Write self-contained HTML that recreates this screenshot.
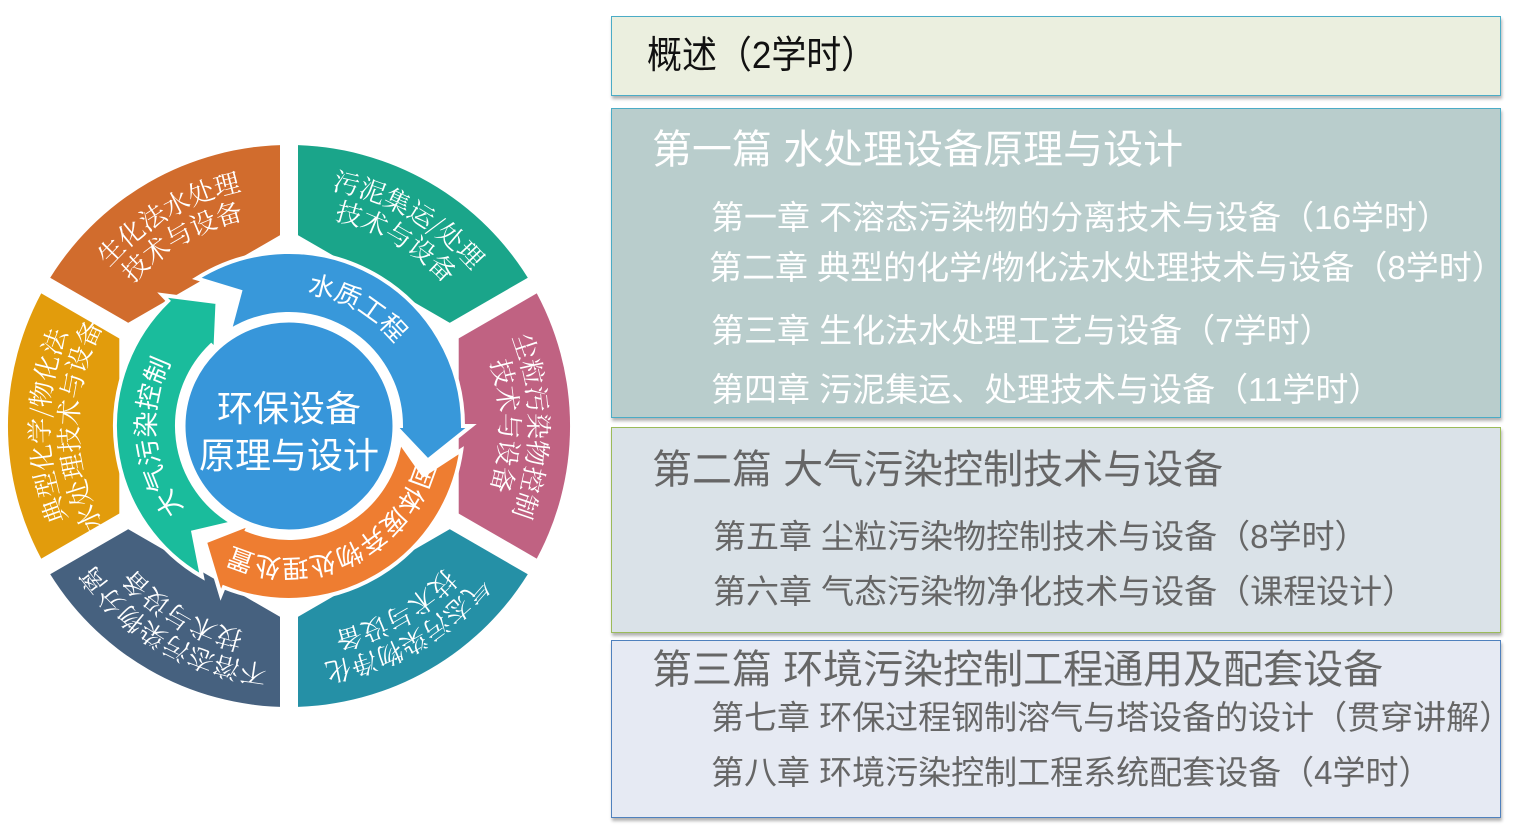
<!DOCTYPE html>
<html><head><meta charset="utf-8">
<style>
html,body{margin:0;padding:0;background:#fff;}
body{width:1522px;height:834px;position:relative;overflow:hidden;font-family:"Liberation Sans","Noto Sans CJK SC",sans-serif;}
.box{position:absolute;left:611px;width:890px;box-sizing:border-box;box-shadow:1px 3px 3px rgba(0,0,0,0.3);}
.t{position:absolute;white-space:nowrap;line-height:1;}
svg{position:absolute;left:0;top:0;}
</style></head><body>
<svg width="600" height="834" viewBox="0 0 600 834">
<g id="outer"></g>
<g id="gaps" stroke="#fff" stroke-width="18"></g>
<g id="inner" stroke="#fff" stroke-width="4"></g>
<circle cx="289" cy="426" r="107" fill="#3796DA" stroke="#fff" stroke-width="7"/>
<defs id="defs"></defs>
<g font-family="'Noto Serif CJK SC',serif" font-size="26" fill="#fff" text-anchor="middle">
<text><textPath href="#o0a" startOffset="50%">生化法水处理</textPath></text>
<text><textPath href="#o0b" startOffset="50%">技术与设备</textPath></text>
<text><textPath href="#o1a" startOffset="50%">污泥集运/处理</textPath></text>
<text><textPath href="#o1b" startOffset="50%">技术与设备</textPath></text>
<text><textPath href="#o2a" startOffset="50%">尘粒污染物控制</textPath></text>
<text><textPath href="#o2b" startOffset="50%">技术与设备</textPath></text>
<text><textPath href="#o3a" startOffset="50%">气态污染物净化</textPath></text>
<text><textPath href="#o3b" startOffset="50%">技术与设备</textPath></text>
<text><textPath href="#o4a" startOffset="50%">不溶态污染物分离</textPath></text>
<text><textPath href="#o4b" startOffset="50%">技术与设备</textPath></text>
<text><textPath href="#o5a" startOffset="50%">典型化学/物化法</textPath></text>
<text><textPath href="#o5b" startOffset="50%">水处理技术与设备</textPath></text>
</g>
<g font-family="'Liberation Sans','Noto Sans CJK SC',sans-serif" font-size="26" fill="#fff" text-anchor="middle">
<text><textPath href="#i0" startOffset="50%">水质工程</textPath></text>
<text><textPath href="#i1" startOffset="50%">固体废弃物处理处置</textPath></text>
<text><textPath href="#i2" startOffset="50%">大气污染控制</textPath></text>
</g>
<g font-family="'Liberation Sans','Noto Sans CJK SC',sans-serif" font-size="36" fill="#fff" text-anchor="middle">
<text x="289" y="421">环保设备</text>
<text x="289" y="468">原理与设计</text>
</g>
</svg>

<div class="box" style="top:16px;height:80px;background:#EBEFDF;border:1px solid #4BACC6;"></div>
<div class="box" style="top:108px;height:310px;background:#B9CDCC;border:1px solid #4BACC6;"></div>
<div class="box" style="top:427px;height:206px;background:#DAE2E8;border:1px solid #9BBB59;"></div>
<div class="box" style="top:640px;height:178px;background:#E6EAF3;border:1px solid #4F81BD;"></div>

<div class="t" style="left:647px;top:37px;font-size:38px;color:#111;transform:scaleX(0.92);transform-origin:left;">概述（2学时）</div>
<div class="t" style="left:652px;top:130px;font-size:40px;color:#fff;">第一篇 水处理设备原理与设计</div>
<div class="t" style="left:711px;top:201px;font-size:33px;color:#fff;">第一章 不溶态污染物的分离技术与设备（16学时）</div>
<div class="t" style="left:709px;top:251px;font-size:33px;color:#fff;">第二章 典型的化学/物化法水处理技术与设备（8学时）</div>
<div class="t" style="left:711px;top:314px;font-size:33px;color:#fff;">第三章 生化法水处理工艺与设备（7学时）</div>
<div class="t" style="left:711px;top:373px;font-size:33px;color:#fff;">第四章 污泥集运、处理技术与设备（11学时）</div>
<div class="t" style="left:652px;top:450px;font-size:40px;color:#666;">第二篇 大气污染控制技术与设备</div>
<div class="t" style="left:713px;top:520px;font-size:33px;color:#666;">第五章 尘粒污染物控制技术与设备（8学时）</div>
<div class="t" style="left:713px;top:575px;font-size:33px;color:#666;">第六章 气态污染物净化技术与设备（课程设计）</div>
<div class="t" style="left:652px;top:650px;font-size:40px;color:#666;">第三篇 环境污染控制工程通用及配套设备</div>
<div class="t" style="left:711px;top:701px;font-size:33px;color:#666;">第七章 环保过程钢制溶气与塔设备的设计（贯穿讲解）</div>
<div class="t" style="left:711px;top:756px;font-size:33px;color:#666;">第八章 环境污染控制工程系统配套设备（4学时）</div>

<script>
(function(){
var NS="http://www.w3.org/2000/svg",cx=289,cy=426;
function P(r,a){a=a*Math.PI/180;return [(cx+r*Math.cos(a)).toFixed(1),(cy-r*Math.sin(a)).toFixed(1)];}
function el(n,at,par){var e=document.createElementNS(NS,n);for(var k in at)e.setAttribute(k,at[k]);document.getElementById(par).appendChild(e);return e;}
function arc(r,a0,a1){var s=P(r,a0),e=P(r,a1);var big=(a0-a1)>180?1:0;return "M"+s+" A"+r+","+r+" 0 "+big+",1 "+e;}
var cols=["#D16C2D","#1AA58A","#C06282","#2590A6","#46617F","#E29C0C"];
for(var k=0;k<6;k++){
 var a0=150-60*k,a1=90-60*k;
 var o0=P(281,a0),o1=P(281,a1),i1=P(196,a1),i0=P(196,a0);
 el("path",{d:"M"+o0+" A281,281 0 0,1 "+o1+" L"+i1+" L"+i0+" Z",fill:cols[k]},"outer");
 el("path",{id:"o"+k+"a",d:arc(240,a0-1,a1+1),fill:"none"},"defs");
 el("path",{id:"o"+k+"b",d:arc(211,a0-1,a1+1),fill:"none"},"defs");
}
for(var g=0;g<6;g++){var a=90-60*g;var p=P(292,a),q=P(150,a);el("line",{x1:q[0],y1:q[1],x2:p[0],y2:p[1]},"gaps");}
var r1=112,r2=174,rm=(r1+r2)/2;
function arrow(a0,a1,col){
 var d="M"+P(r2,a0)+" A"+r2+","+r2+" 0 "+((a0-a1)>180?1:0)+",1 "+P(r2,a1)+" L"+P(r2+8,a1)+" L"+P(rm,a1-14)+" L"+P(r1-6,a1)+" L"+P(r1,a1)+
 " A"+r1+","+r1+" 0 "+((a0-a1)>180?1:0)+",0 "+P(r1,a0)+" L"+P(rm,a0-12)+" Z";
 el("path",{d:d,fill:col},"inner");
}
arrow(122,0,"#3898DA");
arrow(-8,-112,"#EE7D31");
arrow(-120,-226,"#1ABC9C");
el("path",{id:"i0",d:arc(134,100,20),fill:"none"},"defs");
el("path",{id:"i1",d:arc(133,-8,-122),fill:"none"},"defs");
el("path",{id:"i2",d:arc(134,-120,-230),fill:"none"},"defs");
})();
</script>
</body></html>
